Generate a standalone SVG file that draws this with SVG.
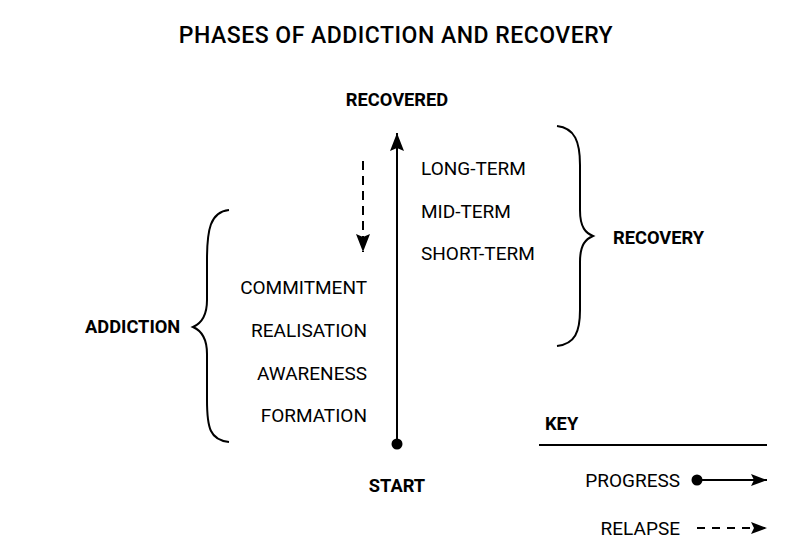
<svg xmlns="http://www.w3.org/2000/svg" width="794" height="559" viewBox="0 0 794 559">
<defs>
<style>
text{font-family:Roboto,"Liberation Sans",sans-serif;fill:#000}
.t{font-size:23px;font-weight:500;letter-spacing:0.5px}
.b{font-size:18.3px;font-weight:700}
.r{font-size:19px;font-weight:400}
.e{text-anchor:end}
.m{text-anchor:middle}
.ln{stroke:#000;stroke-width:2;fill:none}
.ds{stroke-dasharray:9 6}
.dk{stroke-dasharray:8 7}
</style>
<marker id="ah" viewBox="0 0 18 14" refX="18" refY="7" markerWidth="18" markerHeight="14" markerUnits="userSpaceOnUse" orient="auto">
<path d="M0,0 L18,7 L0,14 L3,7 Z" fill="#000"/>
</marker>
<marker id="ak" viewBox="0 0 16 12" refX="16" refY="6" markerWidth="16" markerHeight="12" markerUnits="userSpaceOnUse" orient="auto">
<path d="M0,0 L16,6 L0,12 L3,6 Z" fill="#000"/>
</marker>
</defs>
<rect width="794" height="559" fill="#fff"/>
<text id="title" class="t m" x="396" y="43">PHASES OF ADDICTION AND RECOVERY</text>

<g id="recovered"><text class="b m" x="397" y="106">RECOVERED</text></g>
<g id="start"><text class="b m" x="397" y="492">START</text></g>

<g id="recovery-stages">
<text class="r" x="421" y="175">LONG-TERM</text>
<text class="r" x="421" y="218">MID-TERM</text>
<text class="r" x="421" y="260">SHORT-TERM</text>
</g>
<g id="addiction-stages">
<text class="r e" x="367" y="294">COMMITMENT</text>
<text class="r e" x="367" y="337">REALISATION</text>
<text class="r e" x="367" y="380">AWARENESS</text>
<text class="r e" x="367" y="422">FORMATION</text>
</g>

<g id="addiction">
<path class="ln" d="M229,210 C210,212 207,230 207,260 L207,300 C207,318 200,324 193,327 C200,330 207,336 207,354 L207,400 C207,428 210,440 229,442"/>
<text class="b" x="85" y="333">ADDICTION</text>
</g>
<g id="recovery">
<path class="ln" d="M557,126 C575,128 580,142 580,165 L580,210 C580,228 586,233 593,236 C586,239 580,244 580,262 L580,310 C580,332 575,344 557,346"/>
<text class="b" x="613" y="244">RECOVERY</text>
</g>

<g id="key">
<text class="b" x="545" y="430">KEY</text>
<line class="ln" x1="539" y1="445" x2="767" y2="445"/>
<text class="r e" x="680" y="487">PROGRESS</text>
<text class="r e" x="680" y="535">RELAPSE</text>
</g>

<g id="connectors">
<circle cx="397" cy="444" r="5.5" fill="#000"/>
<line class="ln" x1="397" y1="444" x2="397" y2="133" marker-end="url(#ah)"/>
<line class="ln ds" x1="363" y1="161" x2="363" y2="252" marker-end="url(#ah)"/>
<circle cx="697" cy="480" r="5.5" fill="#000"/>
<line class="ln" x1="697" y1="480" x2="767" y2="480" marker-end="url(#ak)"/>
<line class="ln dk" x1="697" y1="528" x2="767" y2="528" marker-end="url(#ak)"/>
</g>
</svg>
